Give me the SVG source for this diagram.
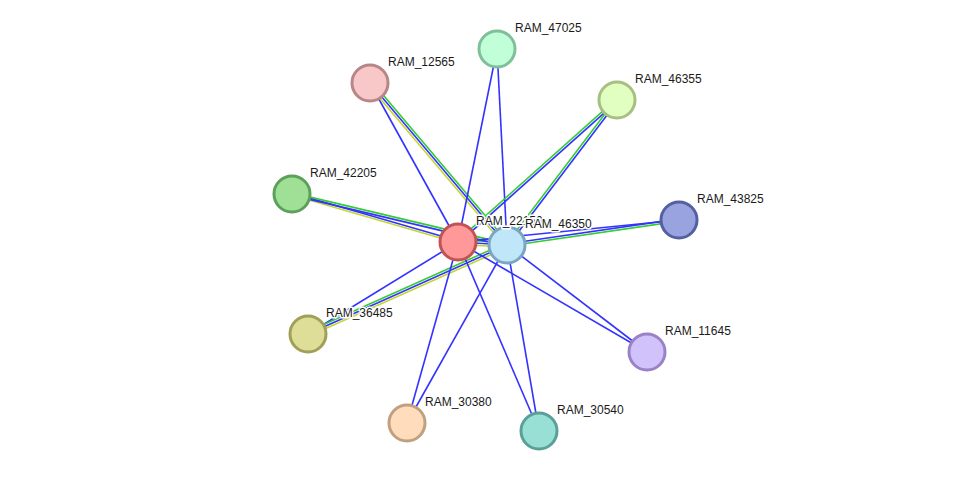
<svg xmlns="http://www.w3.org/2000/svg" width="975" height="477" viewBox="0 0 975 477">
<style>
.e line{stroke-width:1.6;fill:none}
.b{stroke:#3333ff}
.g{stroke:#33cc33}
.y{stroke:#c4d632}
.n circle{stroke-width:3}
.lbl{font-family:"Liberation Sans",Arial,sans-serif;font-size:12px;fill:#1a1a1a;stroke:#ffffff;stroke-width:3;stroke-linejoin:round;paint-order:stroke}
</style>
<rect width="975" height="477" fill="#ffffff"/>
<g id="connectors" class="e">
  <!-- 22150 - 46350 -->
  <line class="g" x1="458" y1="242" x2="507" y2="245" transform="translate(0.14,-2.3)"/>
  <line class="b" x1="458" y1="242" x2="507" y2="245"/>
  <line class="y" x1="458" y1="242" x2="507" y2="245" transform="translate(-0.14,2.3)"/>
  <!-- 42205 -->
  <line class="b" x1="458" y1="242" x2="292" y2="194" transform="translate(0.32,-1.1)"/>
  <line class="y" x1="458" y1="242" x2="292" y2="194" transform="translate(-0.32,1.1)"/>
  <line class="g" x1="507" y1="245" x2="292" y2="194" transform="translate(0.27,-1.12)"/>
  <line class="b" x1="507" y1="245" x2="292" y2="194" transform="translate(-0.27,1.12)"/>
  <!-- 12565 -->
  <line class="b" x1="458" y1="242" x2="370" y2="83"/>
  <line class="g" x1="507" y1="245" x2="370" y2="83" transform="translate(1.75,-1.49)"/>
  <line class="b" x1="507" y1="245" x2="370" y2="83"/>
  <line class="y" x1="507" y1="245" x2="370" y2="83" transform="translate(-1.75,1.49)"/>
  <!-- 47025 -->
  <line class="b" x1="458" y1="242" x2="497" y2="49"/>
  <line class="b" x1="507" y1="245" x2="497" y2="49"/>
  <!-- 46355 -->
  <line class="g" x1="458" y1="242" x2="617" y2="100" transform="translate(-0.77,-0.86)"/>
  <line class="b" x1="458" y1="242" x2="617" y2="100" transform="translate(0.77,0.86)"/>
  <line class="g" x1="507" y1="245" x2="617" y2="100" transform="translate(-0.92,-0.69)"/>
  <line class="b" x1="507" y1="245" x2="617" y2="100" transform="translate(0.92,0.69)"/>
  <!-- 43825 -->
  <line class="b" x1="458" y1="242" x2="679" y2="220"/>
  <line class="b" x1="507" y1="245" x2="679" y2="220" transform="translate(-0.17,-1.14)"/>
  <line class="g" x1="507" y1="245" x2="679" y2="220" transform="translate(0.17,1.14)"/>
  <!-- 36485 -->
  <line class="b" x1="458" y1="242" x2="308" y2="334"/>
  <line class="g" x1="507" y1="245" x2="308" y2="334" transform="translate(-0.94,-2.1)"/>
  <line class="b" x1="507" y1="245" x2="308" y2="334"/>
  <line class="y" x1="507" y1="245" x2="308" y2="334" transform="translate(0.94,2.1)"/>
  <!-- 11645 -->
  <line class="b" x1="458" y1="242" x2="647" y2="352"/>
  <line class="b" x1="507" y1="245" x2="647" y2="352"/>
  <!-- 30380 -->
  <line class="b" x1="458" y1="242" x2="407" y2="423"/>
  <line class="b" x1="507" y1="245" x2="407" y2="423"/>
  <!-- 30540 -->
  <line class="b" x1="458" y1="242" x2="539" y2="431"/>
  <line class="b" x1="507" y1="245" x2="539" y2="431"/>
</g>
<g id="nodes" class="n">
  <g id="RAM_47025"><circle cx="497" cy="49" r="18" fill="#c0ffd8" stroke="#7fbf9a"/></g>
  <g id="RAM_12565"><circle cx="370" cy="83" r="18" fill="#f8c8c8" stroke="#b88686"/></g>
  <g id="RAM_46355"><circle cx="617" cy="100" r="18" fill="#e2ffc2" stroke="#a5c080"/></g>
  <g id="RAM_42205"><circle cx="292" cy="194" r="18" fill="#a0e096" stroke="#5da05a"/></g>
  <g id="RAM_43825"><circle cx="679" cy="220" r="18" fill="#98a3e0" stroke="#5560a0"/></g>
  <g id="RAM_36485"><circle cx="308" cy="334" r="18" fill="#dede98" stroke="#a0a058"/></g>
  <g id="RAM_11645"><circle cx="647" cy="352" r="18" fill="#d2c2fb" stroke="#9a82c8"/></g>
  <g id="RAM_30380"><circle cx="407" cy="423" r="18" fill="#ffdcbc" stroke="#c0a080"/></g>
  <g id="RAM_30540"><circle cx="539" cy="431" r="18" fill="#98e0d6" stroke="#5aa098"/></g>
  <g id="RAM_22150"><circle cx="458" cy="242" r="18" fill="#ff9999" stroke="#c05454"/></g>
  <g id="RAM_46350"><circle cx="507" cy="245" r="18" fill="#c0e6fa" stroke="#7ba6c2"/></g>
</g>
<g id="labels">
  <text class="lbl" x="515" y="32">RAM_47025</text>
  <text class="lbl" x="388" y="66">RAM_12565</text>
  <text class="lbl" x="635" y="83">RAM_46355</text>
  <text class="lbl" x="310" y="177">RAM_42205</text>
  <text class="lbl" x="697" y="203">RAM_43825</text>
  <text class="lbl" x="326" y="317">RAM_36485</text>
  <text class="lbl" x="665" y="335">RAM_11645</text>
  <text class="lbl" x="425" y="406">RAM_30380</text>
  <text class="lbl" x="557" y="414">RAM_30540</text>
  <text class="lbl" x="476" y="225">RAM_22150</text>
  <text class="lbl" x="525" y="228">RAM_46350</text>
</g>
</svg>
